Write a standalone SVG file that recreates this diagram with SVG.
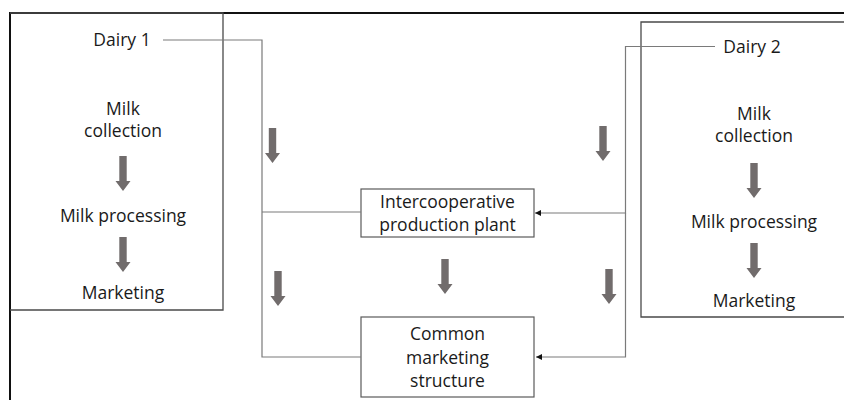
<svg xmlns="http://www.w3.org/2000/svg" width="844" height="400" viewBox="0 0 844 400">
  <style>
    .lbl { font-family: "Open Sans", "Noto Sans", sans-serif; font-size: 17.5px; fill: #1a1a1a; text-anchor: middle; }
    .box { fill: #ffffff; stroke: #5a5a5a; stroke-width: 1.2; }
    .panel { fill: none; stroke: #4a4a4a; stroke-width: 1.3; }
    .link { fill: none; stroke: #7a7a7a; stroke-width: 1.2; }
    .flow { fill: #716c6c; }
  </style>
  <defs>
    <marker id="tri" viewBox="0 0 10 10" refX="10" refY="5" markerWidth="6" markerHeight="6" markerUnits="userSpaceOnUse" orient="auto">
      <path d="M0,0 L10,5 L0,10 Z" fill="#111111"/>
    </marker>
    <!-- block arrow pointing down, tip at (0,35) -->
    <path id="down" d="M-3.7,0 H3.7 V25 H7.5 L0,35 L-7.5,25 H-3.7 Z"/>
  </defs>

  <rect width="844" height="400" fill="#ffffff"/>

  <!-- outer frame -->
  <path d="M10,400 V13 H844" fill="none" stroke="#111111" stroke-width="2"/>

  <!-- Dairy 1 panel -->
  <g id="dairy1">
    <path class="panel" d="M10,13 H223 V310 H10"/>
    <text class="lbl" x="122" y="46">Dairy 1</text>
    <text class="lbl" x="123" y="115">Milk</text>
    <text class="lbl" x="123" y="137">collection</text>
    <use href="#down" class="flow" x="123" y="156"/>
    <text class="lbl" x="123" y="222">Milk processing</text>
    <use href="#down" class="flow" x="123" y="237"/>
    <text class="lbl" x="123" y="299">Marketing</text>
  </g>

  <!-- Dairy 2 panel -->
  <g id="dairy2">
    <path class="panel" d="M844,22 H641 V317 H844"/>
    <text class="lbl" x="752" y="53">Dairy 2</text>
    <text class="lbl" x="754" y="120">Milk</text>
    <text class="lbl" x="754" y="142">collection</text>
    <use href="#down" class="flow" x="754" y="163"/>
    <text class="lbl" x="754" y="228">Milk processing</text>
    <use href="#down" class="flow" x="754" y="243"/>
    <text class="lbl" x="754" y="307">Marketing</text>
  </g>

  <!-- Intercooperative production plant -->
  <g id="plant">
    <rect class="box" x="361" y="189" width="173" height="48"/>
    <text class="lbl" x="447.5" y="208">Intercooperative</text>
    <text class="lbl" x="447.5" y="231">production plant</text>
  </g>

  <!-- Common marketing structure -->
  <g id="marketing">
    <rect class="box" x="361" y="317" width="173" height="80"/>
    <text class="lbl" x="447.5" y="340">Common</text>
    <text class="lbl" x="447.5" y="364">marketing</text>
    <text class="lbl" x="447.5" y="387">structure</text>
  </g>

  <!-- connectors -->
  <g id="connectors">
    <path class="link" d="M163,40 H262 V357 H361"/>
    <path class="link" d="M262,212 H361"/>
    <path class="link" d="M715,46.5 H625.5 V213 H535" marker-end="url(#tri)"/>
    <path class="link" d="M625.5,213 V357 H536" marker-end="url(#tri)"/>
    <use href="#down" class="flow" x="272.5" y="128"/>
    <use href="#down" class="flow" x="603" y="126"/>
    <use href="#down" class="flow" x="278" y="271"/>
    <use href="#down" class="flow" x="445" y="259"/>
    <use href="#down" class="flow" x="609" y="269"/>
  </g>
</svg>
